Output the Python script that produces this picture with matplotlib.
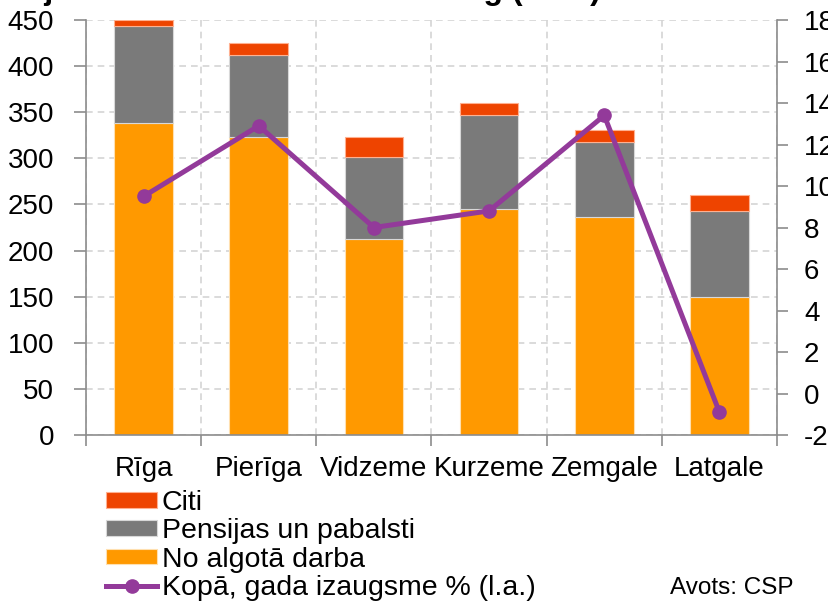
import matplotlib
matplotlib.use("Agg")
import matplotlib.pyplot as plt
from matplotlib.ticker import MultipleLocator, FixedLocator

plt.rcParams['font.family'] = ['Liberation Sans', 'DejaVu Sans']
plt.rcParams['axes.unicode_minus'] = False

# data (EUR, stacked) + growth on right axis
regions = ['Rīga', 'Pierīga', 'Vidzeme', 'Kurzeme', 'Zemgale', 'Latgale']
no_algota = [338, 323, 213, 245, 236, 150]
pensijas = [106, 89, 88, 102, 82, 93]
citi = [6, 13, 22, 13, 13, 17]
izaugsme = [9.5, 12.9, 8.0, 8.8, 13.4, -0.9]

c_orange = '#FF9900'
c_grey = '#7A7A7A'
c_red = '#EE4400'
c_purple = '#933A9A'
c_axis = '#8C8C8C'
c_grid = '#D4D4D4'

fig = plt.figure(figsize=(8.29, 6.05), dpi=100)
ax = fig.add_axes([86 / 829, 1 - 435 / 605, 691 / 829, 415 / 605])

x = list(range(len(regions)))
bottom2 = [a + b for a, b in zip(no_algota, pensijas)]

b1 = ax.bar(x, no_algota, width=0.51, color=c_orange, edgecolor='#FFE0B0', linewidth=0.8)
b2 = ax.bar(x, pensijas, width=0.51, bottom=no_algota, color=c_grey, edgecolor='#D8D8D8', linewidth=0.8)
b3 = ax.bar(x, citi, width=0.51, bottom=bottom2, color=c_red, edgecolor='#FFB090', linewidth=0.8)

ax.set_xlim(-0.5, len(regions) - 0.5)
ax.set_ylim(0, 450)
ax.yaxis.set_major_locator(MultipleLocator(50))
ax.set_xticks(x)
ax.set_xticklabels(regions)
ax.xaxis.set_minor_locator(FixedLocator([i - 0.5 for i in range(len(regions) + 1)]))

ax.set_axisbelow(True)
ax.yaxis.grid(True, linestyle=(0, (4, 3)), color=c_grid, linewidth=1.2)
ax.xaxis.grid(True, which='minor', linestyle=(0, (4, 3)), color=c_grid, linewidth=1.2)

ax.tick_params(axis='y', direction='out', length=9, width=1.2, color=c_axis, labelsize=20, pad=14)
ax.tick_params(axis='x', which='major', length=0, labelsize=20, pad=15)
ax.tick_params(axis='x', which='minor', direction='out', length=8, width=1.2, color=c_axis)

for s in ['top', 'right']:
    ax.spines[s].set_visible(False)
for s in ['left', 'bottom']:
    ax.spines[s].set_color(c_axis)
    ax.spines[s].set_linewidth(1.2)

ax2 = ax.twinx()
line, = ax2.plot(x, izaugsme, color=c_purple, linewidth=3.6, marker='o', markersize=9.5)
ax2.set_ylim(-2, 18)
ax2.yaxis.set_major_locator(MultipleLocator(2))
ax2.tick_params(axis='y', direction='out', length=8, width=1.2, color=c_axis, labelsize=20, pad=11.5)
for s in ['top', 'left', 'bottom']:
    ax2.spines[s].set_visible(False)
ax2.spines['right'].set_color(c_axis)
ax2.spines['right'].set_linewidth(1.2)

fig.legend([b3, b2, b1, line],
           ['Citi', 'Pensijas un pabalsti', 'No algotā darba', 'Kopā, gada izaugsme % (l.a.)'],
           loc='upper left', bbox_to_anchor=(106 / 829, 1 - 490 / 605),
           frameon=False, fontsize=20.5, borderpad=0, borderaxespad=0,
           handlelength=1.8, handleheight=0.47, handletextpad=0.15, labelspacing=0.08)

fig.text(670 / 829, 1 - 588 / 605, 'Avots: CSP', fontsize=17.5, va='center')

# title is cut off at the top edge in the reference
fig.text(0.0, 1 + 1 / 605, 'Mājsaimniecību ienākumi 2016. g (EUR)',
         fontsize=23, fontweight='bold', va='baseline')

fig.savefig('out.png', dpi=100)
